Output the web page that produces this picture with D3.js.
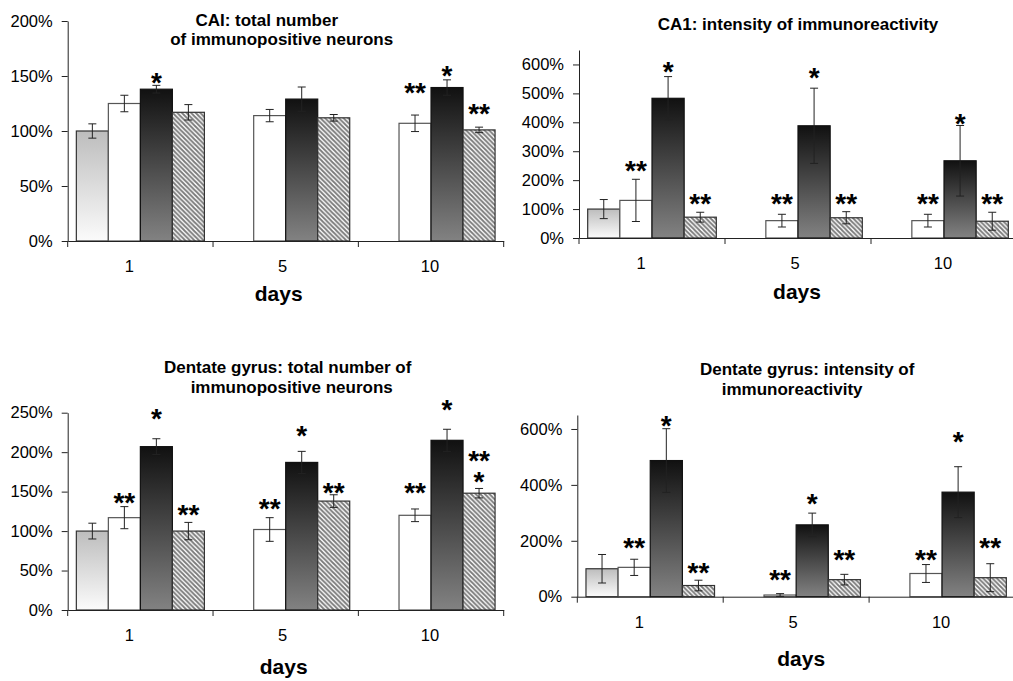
<!DOCTYPE html>
<html>

<head>
    <meta charset="utf-8">
    <script src="https://d3js.org/d3.v7.min.js"></script>
    <title>Immunoreactivity</title>
    <style>
        body {
            margin: 0px;
            background: #fff;
        }

        text {
            font-family: Arial, "Liberation Sans", sans-serif;
            fill: #000;
        }

        .tick text {
            font-size: 16.5px;
        }

        .title {
            font-size: 17px;
            font-weight: bold;
        }

        .axis-label {
            font-size: 21px;
            font-weight: bold;
        }

        .star {
            font-size: 28px;
            font-weight: bold;
        }
    </style>
</head>

<body>
    <svg width="1013" height="681"></svg>
    <script>
        //  Days after treatment, and the four groups drawn in each day.
        const days = ['1', '5', '10'];
        const groups = ['control', 'open', 'dark', 'hatch'];

        //  CA1: total number of immunopositive neurons (% of control).  Rows are days.
        const caCountMean = [[100, 125, 138, 117], [null, 114, 129, 112], [null, 107, 139.5, 101]];
        const caCountErr = [[6.5, 7.5, 3.5, 7], [null, 5.6, 11, 3], [null, 7.5, 7, 2.5]];
        const caCountStars = [['', '', '*', ''], ['', '', '', ''], ['', '**', '*', '**']];
        const caCountStarAt = [[0, 0, 149, 0], [0, 0, 0, 0], [0, 140, 155.5, 120.5]];
        const caCountTicks = [0, 50, 100, 150, 200];

        //  CA1: intensity of immunoreactivity.
        const caIntMean = [[100, 130, 483, 72], [null, 60, 388, 70], [null, 60, 267, 58]];
        const caIntErr = [[33, 73, 75, 17], [null, 22, 130, 21], [null, 22, 122, 31]];
        const caIntStars = [['', '**', '*', '**'], ['', '**', '*', '**'], ['', '**', '*', '**']];
        const caIntStarAt = [[0, 251, 595, 139], [0, 139, 574, 139], [0, 139, 416, 139]];
        const caIntTicks = [0, 100, 200, 300, 400, 500, 600];

        //  Dentate gyrus: total number of immunopositive neurons.
        const dgCountMean = [[100, 117, 207, 100], [null, 102, 187, 138], [null, 120, 215, 148]];
        const dgCountErr = [[10, 14, 10, 11], [null, 15, 14, 8], [null, 8, 14, 6]];
        const dgCountStars = [['', '**', '*', '**'], ['', '**', '*', '**'], ['', '**', '*', '**\n*']];
        const dgCountStarAt = [[0, 143, 249, 127.5], [0, 135, 228, 156], [0, 156, 261.5, 196]];
        const dgCountTicks = [0, 50, 100, 150, 200, 250];

        //  Dentate gyrus: intensity of immunoreactivity.
        const dgIntMean = [[100, 105, 487, 40], [null, 6, 257, 61], [null, 83, 374, 68]];
        const dgIntErr = [[51, 29, 114, 19], [null, 5, 42, 19], [null, 32, 91, 50]];
        const dgIntStars = [['', '**', '*', '**'], ['', '**', '*', '**'], ['', '**', '*', '**']];
        const dgIntStarAt = [[0, 197, 632, 107], [0, 81, 352, 152], [0, 152, 575, 197]];
        const dgIntTicks = [0, 200, 400, 600];

        const panels = [
            { title: ['CAI: total number', 'of immunopositive neurons'], mean: caCountMean, err: caCountErr, stars: caCountStars, starAt: caCountStarAt, ticks: caCountTicks, yMax: 200 },
            { title: ['CA1: intensity of immunoreactivity'], mean: caIntMean, err: caIntErr, stars: caIntStars, starAt: caIntStarAt, ticks: caIntTicks, yMax: 650 },
            { title: ['Dentate gyrus: total number of', 'immunopositive neurons'], mean: dgCountMean, err: dgCountErr, stars: dgCountStars, starAt: dgCountStarAt, ticks: dgCountTicks, yMax: 250 },
            { title: ['Dentate gyrus: intensity of', 'immunoreactivity'], mean: dgIntMean, err: dgIntErr, stars: dgIntStars, starAt: dgIntStarAt, ticks: dgIntTicks, yMax: 650 }
        ];

        //  Where each panel sits on the page (pixels).
        const layout = [
            { left: 67.7, right: 503.7, top: 21, bottom: 241, titleY: 25.5, lineH: 19.5, titleDx: [-19, -4], daysY: 60, daysDx: -7 },
            { left: 579, right: 1017, top: 50, bottom: 238, titleY: 29.5, lineH: 20, titleDx: [0], daysY: 61, daysDx: -1 },
            { left: 67.7, right: 503.7, top: 412.7, bottom: 610, titleY: 373, lineH: 20, titleDx: [2, 6], daysY: 64, daysDx: -2 },
            { left: 577.3, right: 1015, top: 415, bottom: 596.7, titleY: 375, lineH: 20, titleDx: [11, -4], daysY: 69, daysDx: 5 }
        ];
        const catShift = [-11, -3, -1];   //  Day labels sit a little left in the original.

        const svg = d3.select('svg');
        const defs = svg.append('defs');

        //  Light gray fade for control, black-to-gray for the dark group.
        const lightGrad = defs.append('linearGradient').attr('id', 'lightGrad')
            .attr('x1', 0).attr('y1', 0).attr('x2', 0).attr('y2', 1);
        lightGrad.append('stop').attr('offset', 0).attr('stop-color', '#bdbdbd');
        lightGrad.append('stop').attr('offset', 1).attr('stop-color', '#fbfbfb');

        const darkGrad = defs.append('linearGradient').attr('id', 'darkGrad')
            .attr('x1', 0).attr('y1', 0).attr('x2', 0).attr('y2', 1);
        darkGrad.append('stop').attr('offset', 0).attr('stop-color', '#111');
        darkGrad.append('stop').attr('offset', 1).attr('stop-color', '#828282');

        //  Diagonal stripes, top-left to bottom-right.
        const hs = 4.6;
        const hatch = defs.append('pattern').attr('id', 'hatch')
            .attr('patternUnits', 'userSpaceOnUse')
            .attr('width', hs).attr('height', hs);
        hatch.append('rect').attr('width', hs).attr('height', hs).attr('fill', '#fff');
        hatch.append('path')
            .attr('d', `M-1,-1 L${hs + 1},${hs + 1} M-1,${hs - 1} L1,${hs + 1} M${hs - 1},-1 L${hs + 1},1`)
            .attr('stroke', '#7a7a7a').attr('stroke-width', 1.8);

        const fills = { control: 'url(#lightGrad)', open: '#fff', dark: 'url(#darkGrad)', hatch: 'url(#hatch)' };
        const strokes = { control: '#333', open: '#555', dark: '#111', hatch: '#333' };

        panels.forEach((p, i) => {
            const L = layout[i];
            const g = svg.append('g');

            const x0 = d3.scaleBand().domain(days).range([L.left, L.right]).padding(0);
            const x1 = d3.scaleBand().domain(groups).range([0, x0.bandwidth()])
                .paddingInner(0).paddingOuter(0.27);
            const y = d3.scaleLinear().domain([0, p.yMax]).range([L.bottom, L.top]);

            //  Bars, error bars and significance stars.
            const bars = [];
            p.mean.forEach((row, di) => row.forEach((v, gi) => {
                if (v === null) return;
                bars.push({
                    day: days[di], grp: groups[gi], v: v, e: p.err[di][gi],
                    star: p.stars[di][gi], starAt: p.starAt[di][gi]
                });
            }));

            g.selectAll('rect.bar').data(bars).join('rect')
                .attr('class', 'bar')
                .attr('x', d => x0(d.day) + x1(d.grp))
                .attr('y', d => y(d.v))
                .attr('width', x1.bandwidth())
                .attr('height', d => y(0) - y(d.v))
                .attr('fill', d => fills[d.grp])
                .attr('stroke', d => strokes[d.grp])
                .attr('stroke-width', 1.2);

            const cx = d => x0(d.day) + x1(d.grp) + x1.bandwidth() / 2;
            const eb = g.selectAll('g.err').data(bars).join('g').attr('class', 'err')
                .attr('stroke', '#222').attr('stroke-width', 1);
            eb.append('line')
                .attr('x1', cx).attr('x2', cx)
                .attr('y1', d => y(d.v + d.e)).attr('y2', d => y(Math.max(0, d.v - d.e)));
            eb.append('line')
                .attr('x1', d => cx(d) - 4).attr('x2', d => cx(d) + 4)
                .attr('y1', d => y(d.v + d.e)).attr('y2', d => y(d.v + d.e));
            eb.append('line')
                .attr('x1', d => cx(d) - 4).attr('x2', d => cx(d) + 4)
                .attr('y1', d => y(Math.max(0, d.v - d.e))).attr('y2', d => y(Math.max(0, d.v - d.e)));

            //  Stars: one text per line so stacked marks stay separate.
            const starLines = [];
            bars.filter(d => d.star).forEach(d => {
                d.star.split('\n').forEach((s, k) => starLines.push({ s: s, x: cx(d), y: y(d.starAt) + 15 + k * 21 }));
            });
            g.selectAll('text.star').data(starLines).join('text')
                .attr('class', 'star')
                .attr('text-anchor', 'middle')
                .attr('x', d => d.x)
                .attr('y', d => d.y)
                .text(d => d.s);

            //  Y axis.
            g.append('g')
                .attr('transform', `translate(${L.left},0)`)
                .call(d3.axisLeft(y).tickValues(p.ticks).tickFormat(d => d + '%')
                    .tickSize(6).tickSizeOuter(0).tickPadding(9));

            //  X axis: labels at the day centres, ticks at the group edges.
            const xAxisG = g.append('g')
                .attr('transform', `translate(0,${L.bottom})`)
                .call(d3.axisBottom(x0).tickSize(0).tickSizeOuter(0).tickPadding(0));
            xAxisG.selectAll('.tick text')
                .attr('dy', 0).attr('y', 31)
                .attr('dx', (d, k) => catShift[k]);
            xAxisG.selectAll('line.edge').data(days.map(d => x0(d)).concat([x0.range()[1]]))
                .join('line').attr('class', 'edge')
                .attr('x1', d => d).attr('x2', d => d)
                .attr('y1', 0).attr('y2', 6)
                .attr('stroke', '#222');

            g.selectAll('.domain').attr('stroke', '#222');
            g.selectAll('.tick line').attr('stroke', '#222');

            //  Title and axis label.
            const midX = (L.left + L.right) / 2;
            g.selectAll('text.title').data(p.title).join('text')
                .attr('class', 'title')
                .attr('text-anchor', 'middle')
                .attr('x', (t, k) => midX + L.titleDx[k])
                .attr('y', (t, k) => L.titleY + k * L.lineH)
                .text(t => t);

            g.append('text')
                .attr('class', 'axis-label')
                .attr('text-anchor', 'middle')
                .attr('x', midX + L.daysDx)
                .attr('y', L.bottom + L.daysY)
                .text('days');
        });
    </script>
</body>

</html>
